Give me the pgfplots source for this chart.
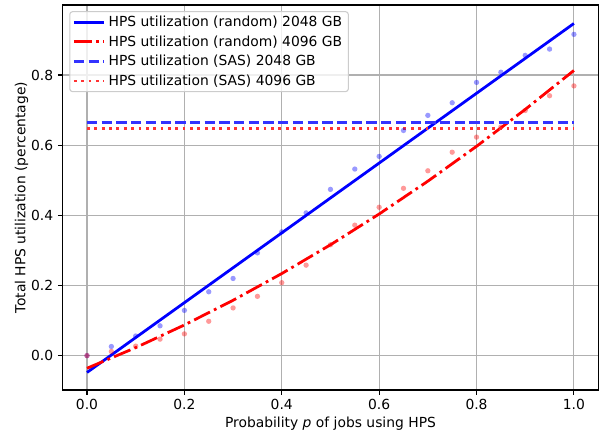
\documentclass[border=0pt]{standalone}
\usepackage{pgfplots}
\pgfplotsset{compat=1.18}
\usepackage{fontspec}
\setmainfont{DejaVu Sans}

% HPS utilization samples, p = 0, 0.05, ..., 1
\pgfplotstableread{
p     u2048  u4096
0.00  0.000  0.000
0.05  0.026  0.012
0.10  0.056  0.027
0.15  0.085  0.047
0.20  0.129  0.062
0.25  0.182  0.098
0.30  0.220  0.136
0.35  0.293  0.169
0.40  0.353  0.208
0.45  0.407  0.258
0.50  0.474  0.316
0.55  0.532  0.372
0.60  0.568  0.423
0.65  0.642  0.477
0.70  0.685  0.527
0.75  0.721  0.580
0.80  0.779  0.623
0.85  0.808  0.652
0.90  0.856  0.699
0.95  0.874  0.741
1.00  0.916  0.769
}\samples

% fitted curves
\pgfplotstableread{
p    f2048   f4096
0.0  -0.048  -0.036
0.1   0.0515  0.0228
0.2   0.151   0.0874
0.3   0.2505  0.1578
0.4   0.350   0.234
0.5   0.4495  0.316
0.6   0.549   0.4038
0.7   0.6485  0.4974
0.8   0.748   0.5968
0.9   0.8475  0.702
1.0   0.947   0.813
}\fits

\definecolor{gridgray}{HTML}{B0B0B0}
\definecolor{legframe}{HTML}{CCCCCC}
\definecolor{sasblue}{RGB}{51,51,255}
\definecolor{sasred}{RGB}{255,51,51}

\begin{document}
\begin{tikzpicture}[font=\fontsize{10.4pt}{12.5pt}\selectfont]
\begin{axis}[
  name=main,
  at={(0,0)}, anchor=south west,
  scale only axis,
  width=401.7pt, height=288.75pt,
  xmin=-0.05, xmax=1.05,
  ymin=-0.098, ymax=0.9997,
  xtick={0,0.2,0.4,0.6,0.8,1.0},
  ytick={0,0.2,0.4,0.6,0.8},
  /pgf/number format/assume math mode=true,
  xticklabel style={/pgf/number format/.cd, fixed, fixed zerofill, precision=1},
  yticklabel style={/pgf/number format/.cd, fixed, fixed zerofill, precision=1},
  tick align=outside,
  xtick pos=bottom, ytick pos=left,
  major tick length=3.65pt,
  tick style={black, line width=0.83pt},
  axis line style={black, line width=0.83pt},
  grid=major,
  grid style={gridgray, line width=0.83pt},
  xlabel={Probability \textit{p} of jobs using HPS},
  ylabel={Total HPS utilization (percentage)},
  every axis x label/.style={at={(axis description cs:0.5,-0.087)}, anchor=center},
  every axis y label/.style={at={(axis description cs:-0.0766,0.5)}, rotate=90, anchor=center},
  legend cell align=left,
  legend image code/.code={\draw[#1] (0pt,0pt) -- (22.5pt,0pt);},
  legend style={
    at={(axis description cs:0.0123,0.984)}, anchor=north west,
    draw=legframe, line width=0.8pt, rounded corners=2pt,
    fill=white, fill opacity=0.8, text opacity=1,
    inner xsep=2pt, inner ysep=2pt,
    row sep=2.9pt,
    nodes={inner xsep=2.6pt, inner ysep=1.2pt},
  },
]
% measured samples
\addplot[only marks, mark=*, mark size=2pt, blue, opacity=0.4, draw opacity=0, forget plot]
  table[x=p, y=u2048] {\samples};
\addplot[only marks, mark=*, mark size=2pt, red, opacity=0.4, draw opacity=0, forget plot]
  table[x=p, y=u4096] {\samples};

% fits and SAS levels
\addplot[blue, line width=2.08pt] table[x=p, y=f2048] {\fits};
\addlegendentry{HPS utilization (random) 2048 GB}
\addplot[red, line width=2.08pt, dash pattern=on 13.3pt off 3.33pt on 2.08pt off 3.33pt] table[x=p, y=f4096] {\fits};
\addlegendentry{HPS utilization (random) 4096 GB}
\addplot[sasblue, line width=2.08pt, dash pattern=on 7.7pt off 3.33pt] coordinates {(0,0.664) (1,0.664)};
\addlegendentry{HPS utilization (SAS) 2048 GB}
\addplot[sasred, line width=2.08pt, dash pattern=on 2.08pt off 3.44pt] coordinates {(0,0.647) (1,0.647)};
\addlegendentry{HPS utilization (SAS) 4096 GB}
\end{axis}
% axes frame, drawn once more so all four sides show clearly
\draw[black, line width=1.05pt] (main.south west) rectangle (main.north east);
\pgfresetboundingbox
\path (-47.0pt,-34.5pt) rectangle (403.75pt,292.5pt);
\end{tikzpicture}
\end{document}
